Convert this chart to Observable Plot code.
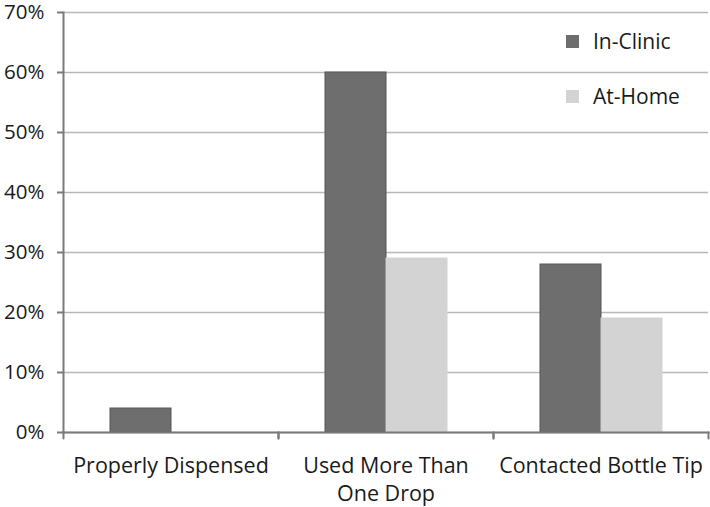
<!DOCTYPE html>
<html>
<head>
<meta charset="utf-8">
<script src="https://cdn.jsdelivr.net/npm/d3@7"></script>
<script src="https://cdn.jsdelivr.net/npm/@observablehq/plot@0.6"></script>
<style>
  html, body { margin: 0; padding: 0; background: #fff; }
  #wrap { position: relative; width: 710px; height: 507px; font-family: "Open Sans", sans-serif; }
  #legend { position: absolute; left: 566px; top: 27px; font-size: 21px; color: #1a1a1a; }
  .item { display: flex; align-items: center; height: 28px; margin-bottom: 27px; }
  .sw { width: 13px; height: 13px; margin-right: 14px; }
</style>
</head>
<body>
<div id="wrap"></div>
<script>
const categories = ["Properly Dispensed", "Used More Than One Drop", "Contacted Bottle Tip"];
const categoryLabels = ["Properly Dispensed", "Used More Than\nOne Drop", "Contacted Bottle Tip"];
const series = ["In-Clinic", "At-Home"];
const inClinic = [0.04, 0.60, 0.28];
const atHome = [0.00, 0.29, 0.19];
const seriesColors = ["#6e6e6e", "#d3d3d3"];
const seriesStrokes = ["#565656", "#d3d3d3"];
const yTicks = [0, 0.1, 0.2, 0.3, 0.4, 0.5, 0.6, 0.7];

const values = [inClinic, atHome];
const rows = [];
categories.forEach((c, i) => series.forEach((s, j) => rows.push({category: c, series: s, value: values[j][i]})));

const tickLine = {draw(context, l) { context.moveTo(0, 0); context.lineTo(0, -l); }};

const chart = Plot.plot({
  width: 710,
  height: 507,
  marginLeft: 63,
  marginRight: 2,
  marginTop: 12,
  marginBottom: 75,
  style: {fontFamily: "Open Sans, sans-serif", color: "#1a1a1a", background: "#fff"},
  fx: {domain: categories, padding: 0, label: null},
  x: {domain: series, paddingInner: 0, paddingOuter: 0.762, axis: null},
  y: {domain: [0, 0.7], ticks: yTicks, label: null},
  color: {domain: series, range: seriesColors},
  marks: [
    Plot.gridY(yTicks, {stroke: "#b8b8b8", strokeOpacity: 1, strokeWidth: 1.6}),
    Plot.barY(rows, {fx: "category", x: "series", y: "value", fill: "series",
      stroke: d => seriesStrokes[series.indexOf(d.series)], strokeWidth: 1}),
    Plot.frame({anchor: "bottom", stroke: "#7a7a7a", strokeWidth: 2, facet: "super"}),
    Plot.frame({anchor: "left", stroke: "#7a7a7a", strokeWidth: 2, facet: "super"}),
    Plot.vector(categories, {fx: d => d, frameAnchor: "bottom-left", anchor: "start", rotate: 180, length: 6, shape: tickLine, stroke: "#7a7a7a", strokeWidth: 2}),
    Plot.vector(categories, {fx: d => d, frameAnchor: "bottom-right", anchor: "start", rotate: 180, length: 6, shape: tickLine, stroke: "#7a7a7a", strokeWidth: 2}),
    Plot.axisY(yTicks, {tickFormat: d3.format(".0%"), tickSize: 6, tickPadding: 13, fontSize: 20.5, stroke: "#7a7a7a", strokeWidth: 2, label: null}),
    Plot.axisFx({anchor: "bottom", tickSize: 0, tickPadding: 21, fontSize: 21.5, lineHeight: 1.3,
      tickFormat: d => categoryLabels[categories.indexOf(d)], label: null})
  ]
});

const wrap = document.getElementById("wrap");
wrap.appendChild(chart);

const legend = document.createElement("div");
legend.id = "legend";
series.forEach((s, j) => {
  const item = document.createElement("div");
  item.className = "item";
  const sw = document.createElement("span");
  sw.className = "sw";
  sw.style.background = seriesColors[j];
  const t = document.createElement("span");
  t.textContent = s;
  item.appendChild(sw);
  item.appendChild(t);
  legend.appendChild(item);
});
wrap.appendChild(legend);
</script>
</body>
</html>
